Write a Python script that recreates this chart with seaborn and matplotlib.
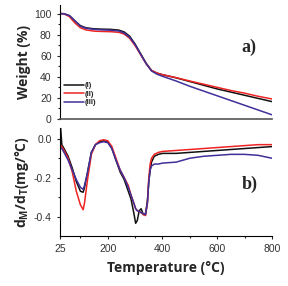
import numpy as np
import pandas as pd
import matplotlib
matplotlib.use("Agg")
import matplotlib.pyplot as plt
import seaborn as sns
from matplotlib.ticker import MultipleLocator, FixedLocator

# ---- données TGA (perte de masse, %)
temp_tga = [25, 40, 60, 80, 100, 120, 150, 180, 210, 240, 260, 280, 300, 320,
            340, 360, 380, 400, 450, 500, 550, 600, 650, 700, 750, 800]
poids_I = [100, 99.8, 98, 93, 88.5, 86.5, 85.5, 85.2, 85, 84.3, 82.5, 78.5, 71,
           62, 53, 46, 43.5, 42, 39, 35.5, 32, 28.5, 25.5, 22.5, 19.5, 16.5]
poids_II = [100, 99.7, 97, 91, 86.5, 84.5, 83.3, 83, 82.8, 82.2, 80.5, 76.5, 69.5,
            61, 52.5, 46, 43.5, 42, 39.2, 36, 33, 30, 27, 24.5, 21.5, 19]
poids_III = [100, 99.8, 98, 93, 88, 86, 85, 84.5, 84.2, 83.5, 81.5, 77.5, 70.5,
             61.5, 52.5, 45.5, 42.5, 40.5, 36, 31, 26.5, 22, 17.5, 13, 8.5, 4]

# ---- données DTG (mg/°C)
temp_dtg = [25, 28, 32, 40, 55, 70, 85, 100, 110, 115, 125, 140, 155, 170, 185,
            200, 215, 230, 245, 260, 275, 285, 295, 302, 308, 315, 322, 330, 338,
            345, 350, 355, 360, 370, 385, 400, 450, 500, 550, 600, 650, 700, 750, 800]
dtg_I = [0.12, 0.05, -0.03, -0.05, -0.09, -0.15, -0.22, -0.27, -0.275, -0.25,
         -0.18, -0.07, -0.03, -0.015, -0.01, -0.015, -0.05, -0.11, -0.17, -0.21,
         -0.27, -0.31, -0.38, -0.435, -0.42, -0.37, -0.36, -0.39, -0.385, -0.32,
         -0.22, -0.16, -0.12, -0.09, -0.08, -0.075, -0.075, -0.07, -0.065, -0.06,
         -0.055, -0.05, -0.045, -0.04]
dtg_II = [-0.03, -0.035, -0.04, -0.06, -0.1, -0.17, -0.27, -0.34, -0.365, -0.33,
          -0.22, -0.08, -0.03, -0.01, -0.005, -0.01, -0.04, -0.1, -0.16, -0.2,
          -0.24, -0.29, -0.33, -0.36, -0.37, -0.375, -0.38, -0.39, -0.395, -0.33,
          -0.2, -0.13, -0.1, -0.08, -0.07, -0.065, -0.06, -0.055, -0.05, -0.045,
          -0.04, -0.035, -0.03, -0.03]
dtg_III = [-0.04, -0.045, -0.05, -0.07, -0.11, -0.16, -0.21, -0.25, -0.26, -0.24,
           -0.18, -0.07, -0.03, -0.02, -0.015, -0.02, -0.05, -0.11, -0.16, -0.2,
           -0.25, -0.29, -0.33, -0.36, -0.37, -0.375, -0.38, -0.385, -0.39, -0.33,
           -0.22, -0.16, -0.14, -0.13, -0.13, -0.125, -0.12, -0.1, -0.09, -0.085,
           -0.08, -0.08, -0.085, -0.1]

echantillons = ["(I)", "(II)", "(III)"]
couleurs = {"(I)": "#111111", "(II)": "#ee2424", "(III)": "#40309a"}

tga = pd.DataFrame({
    "T": temp_tga * 3,
    "W": poids_I + poids_II + poids_III,
    "ech": sum([[e] * len(temp_tga) for e in echantillons], []),
})
dtg = pd.DataFrame({
    "T": temp_dtg * 3,
    "D": dtg_I + dtg_II + dtg_III,
    "ech": sum([[e] * len(temp_dtg) for e in echantillons], []),
})

sns.set_style("white")
plt.rcParams["font.family"] = ["Liberation Sans", "DejaVu Sans"]
plt.rcParams["mathtext.fontset"] = "custom"
plt.rcParams["mathtext.bf"] = "Open Sans:bold"
plt.rcParams["mathtext.rm"] = "Open Sans:bold"

fig = plt.figure(figsize=(2.88, 2.86), dpi=100)
ax1 = fig.add_axes([0.208, 0.584, 0.736, 0.40])
ax2 = fig.add_axes([0.208, 0.175, 0.736, 0.377])

# Haut : TGA
sns.lineplot(data=tga, x="T", y="W", hue="ech", palette=couleurs, sort=False,
             linewidth=1.1, ax=ax1)
ax1.set_xlim(25, 800)
ax1.set_ylim(0, 108.5)
ax1.set_xticks([])
ax1.yaxis.set_major_locator(MultipleLocator(20))
ax1.yaxis.set_minor_locator(MultipleLocator(10))
ax1.tick_params(axis="y", which="both", left=True, direction="out",
                labelsize=7.5, labelcolor="#333333", length=2.5, width=0.8)
ax1.tick_params(axis="y", which="minor", length=1.5)
ax1.set_xlabel("")
ax1.set_ylabel("Weight (%)", fontsize=10, fontweight="bold",
               family=["Open Sans", "DejaVu Sans"], labelpad=2)
for s in ["top", "right"]:
    ax1.spines[s].set_visible(False)
ax1.spines["left"].set_color("black")
ax1.spines["bottom"].set_color("#555555")
ax1.spines["bottom"].set_linewidth(1.2)
leg = ax1.legend(loc="lower left", bbox_to_anchor=(0.0, 0.07), frameon=False,
                 fontsize=5.5, handlelength=2.6, handletextpad=0.1,
                 labelspacing=0.15, borderaxespad=0.2)
for t in leg.get_texts():
    t.set_fontweight("bold")
ax1.text(0.855, 0.585, "a)", transform=ax1.transAxes, fontsize=13,
         fontweight="bold", family="Liberation Serif")

# Bas : DTG
sns.lineplot(data=dtg, x="T", y="D", hue="ech", palette=couleurs, sort=False,
             linewidth=1.1, legend=False, ax=ax2)
ax2.set_xlim(25, 800)
ax2.set_ylim(-0.5, 0.055)
ax2.xaxis.set_major_locator(FixedLocator([25, 200, 400, 600, 800]))
ax2.xaxis.set_minor_locator(FixedLocator([100, 300, 500, 700]))
ax2.yaxis.set_major_locator(FixedLocator([-0.4, -0.2, 0.0]))
ax2.yaxis.set_minor_locator(FixedLocator([-0.3, -0.1]))
ax2.set_yticklabels(["-0.4", "-0.2", "0.0"])
ax2.tick_params(which="both", bottom=True, left=True, direction="out",
                labelsize=7.5, labelcolor="#333333", length=2.5, width=0.8)
ax2.tick_params(which="minor", length=1.5)
for s in ["top", "right"]:
    ax2.spines[s].set_visible(False)
ax2.spines["left"].set_color("black")
ax2.spines["bottom"].set_color("black")
ax2.set_xlabel("Temperature (°C)", fontsize=10, fontweight="bold",
               family=["Open Sans", "DejaVu Sans"], labelpad=5)
ax2.set_ylabel(r"d$_\mathbf{M}$/d$_\mathbf{T}$(mg/°C)", fontsize=10,
               fontweight="bold", family=["Open Sans", "DejaVu Sans"], labelpad=2)
ax2.text(0.857, 0.44, "b)", transform=ax2.transAxes, fontsize=13,
         fontweight="bold", family="Liberation Serif")

fig.savefig("out.png", dpi=100)
